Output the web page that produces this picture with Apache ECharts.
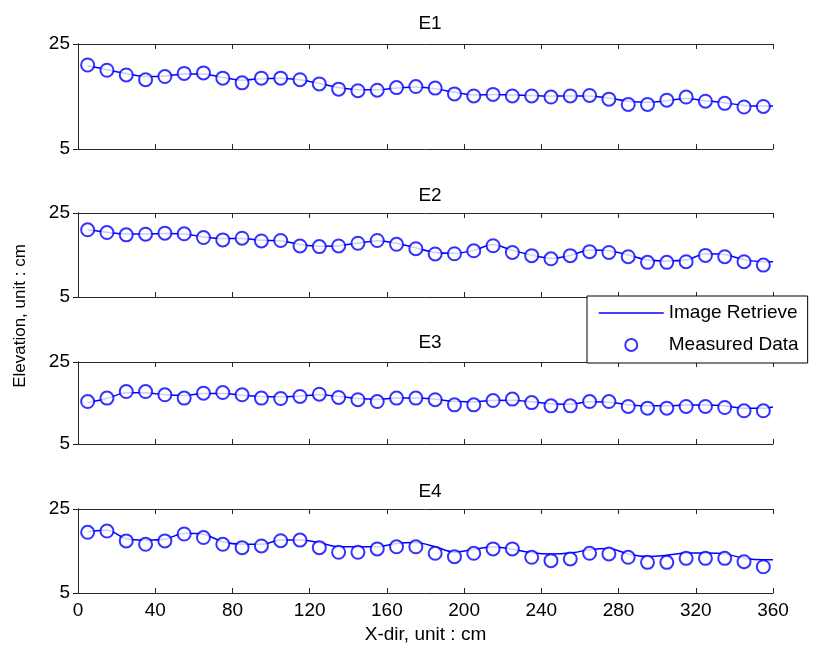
<!DOCTYPE html>
<html>
<head>
<meta charset="utf-8">
<script src="https://cdn.jsdelivr.net/npm/echarts@6/dist/echarts.min.js"></script>
<style>
  html, body { margin: 0; padding: 0; background: #fff; }
  #chart { width: 819px; height: 650px; }
</style>
</head>
<body>
<div id="chart"></div>
<script>
// sample positions (cm)
const xMeasured = [5, 15, 25, 35, 45, 55, 65, 75, 85, 95, 105, 115, 125, 135, 145, 155, 165, 175,
  185, 195, 205, 215, 225, 235, 245, 255, 265, 275, 285, 295, 305, 315, 325, 335, 345, 355];
const xRetrieve = [5, 15, 25, 35, 45, 55, 65, 75, 85, 95, 105, 115, 125, 135, 145, 155, 165, 175,
  185, 195, 205, 215, 225, 235, 245, 255, 265, 275, 285, 295, 305, 315, 325, 335, 345, 355, 360];

// measured elevations (cm)
const e1Measured = [21.0, 20.0, 19.1, 18.2, 18.8, 19.4, 19.5, 18.5, 17.6, 18.5, 18.5, 18.2, 17.4, 16.4, 16.1, 16.2, 16.7, 16.9,
  16.6, 15.5, 15.1, 15.4, 15.1, 15.1, 14.9, 15.1, 15.2, 14.5, 13.5, 13.5, 14.3, 14.9, 14.1, 13.7, 13.0, 13.1];
const e2Measured = [21.0, 20.35, 19.8, 19.95, 20.2, 20.05, 19.15, 18.6, 19.0, 18.35, 18.45, 17.15, 17.0, 17.15, 17.8, 18.45, 17.55, 16.5,
  15.25, 15.3, 16.0, 17.2, 15.6, 14.85, 14.1, 14.85, 15.8, 15.6, 14.6, 13.25, 13.25, 13.4, 14.9, 14.6, 13.4, 12.6];
const e3Measured = [15.35, 16.2, 17.8, 17.8, 17.0, 16.2, 17.4, 17.55, 17.0, 16.2, 16.1, 16.6, 17.15, 16.35, 15.8, 15.35, 16.2, 16.2,
  15.8, 14.55, 14.55, 15.6, 15.95, 15.1, 14.3, 14.3, 15.35, 15.35, 14.15, 13.75, 13.75, 14.15, 14.15, 13.9, 13.1, 13.1];
const e4Measured = [19.45, 19.75, 17.4, 16.6, 17.4, 19.05, 18.2, 16.6, 15.8, 16.2, 17.45, 17.6, 15.8, 14.7, 14.7, 15.5, 16.0, 16.0,
  14.45, 13.65, 14.45, 15.5, 15.5, 13.5, 12.7, 13.1, 14.45, 14.3, 13.5, 12.3, 12.3, 13.25, 13.25, 13.25, 12.45, 11.25];

// image-retrieved elevations (cm)
const e1Retrieve = [20.9, 20.1, 19.4, 18.8, 18.9, 19.3, 19.3, 18.6, 18.1, 18.4, 18.5, 18.2, 17.5, 16.7, 16.3, 16.3, 16.6, 16.8,
  16.5, 15.8, 15.3, 15.4, 15.3, 15.2, 15.1, 15.1, 15.1, 14.7, 14.1, 13.9, 14.2, 14.6, 14.2, 13.8, 13.3, 13.2, 13.2];
const e2Retrieve = [21.0, 20.4, 20.0, 20.0, 20.1, 20.0, 19.3, 18.9, 18.9, 18.5, 18.4, 17.5, 17.1, 17.2, 17.8, 18.4, 17.8, 16.7,
  15.6, 15.4, 16.1, 17.5, 16.1, 15.0, 14.2, 14.9, 16.2, 16.0, 15.0, 13.8, 13.6, 13.8, 15.3, 15.1, 13.9, 13.4, 13.4];
const e3Retrieve = [15.1, 16.1, 17.5, 17.5, 17.0, 16.8, 17.3, 17.3, 16.9, 16.6, 16.5, 16.7, 17.0, 16.6, 16.1, 15.9, 16.2, 16.2,
  15.9, 15.4, 15.3, 15.6, 15.7, 15.3, 14.8, 14.7, 15.3, 15.2, 14.6, 14.3, 14.3, 14.5, 14.5, 14.3, 13.7, 13.7, 14.0];
const e4Retrieve = [19.6, 20.0, 17.9, 17.6, 17.8, 19.2, 19.0, 17.2, 16.6, 16.6, 17.6, 17.6, 17.0, 16.0, 16.0, 16.0, 16.8, 17.0,
  16.0, 14.7, 15.4, 16.0, 15.4, 14.6, 14.3, 14.5, 15.3, 15.6, 14.3, 13.7, 14.0, 14.5, 14.5, 14.3, 13.3, 12.9, 12.9];

const panelNames = ['E1', 'E2', 'E3', 'E4'];
const measured = [e1Measured, e2Measured, e3Measured, e4Measured];
const retrieved = [e1Retrieve, e2Retrieve, e3Retrieve, e4Retrieve];

const FONT = "'Liberation Sans', Arial, Helvetica, sans-serif";
const AXIS_COLOR = '#262626';
const BLUE = '#0000ff';

// subplot boxes (px)
const panelTop = [44, 213, 362, 509];
const panelHeight = [105, 84, 82, 84];
const titleTop = [9, 181, 328, 477];

const chart = echarts.init(document.getElementById('chart'));

const grid = [];
const xAxis = [];
const yAxis = [];
const series = [];
const title = [];

panelNames.forEach((name, i) => {
  grid.push({ left: 78, right: 46, top: panelTop[i], height: panelHeight[i] });

  title.push({
    text: name,
    left: 425,
    top: titleTop[i],
    textAlign: 'center',
    textStyle: { fontFamily: FONT, fontSize: 19, fontWeight: 'normal', color: '#000' }
  });

  const isLast = i === panelNames.length - 1;
  const xCommon = {
    gridIndex: i,
    type: 'value',
    min: 0,
    max: 360,
    interval: 40,
    axisLine: { show: true, lineStyle: { color: AXIS_COLOR, width: 1 } },
    axisTick: { show: true, inside: true, length: 5, lineStyle: { color: AXIS_COLOR } },
    splitLine: { show: false }
  };
  xAxis.push(Object.assign({}, xCommon, {
    position: 'bottom',
    axisLabel: { show: isLast, fontFamily: FONT, fontSize: 19, color: '#000', margin: 8 },
    name: isLast ? 'X-dir, unit : cm' : '',
    nameLocation: 'middle',
    nameGap: 32,
    nameTextStyle: { fontFamily: FONT, fontSize: 19, color: '#000' }
  }));
  xAxis.push(Object.assign({}, xCommon, {
    position: 'top',
    axisLabel: { show: false }
  }));

  const yCommon = {
    gridIndex: i,
    type: 'value',
    min: 5,
    max: 25,
    interval: 20,
    axisLine: { show: true, lineStyle: { color: AXIS_COLOR, width: 1 } },
    axisTick: { show: true, inside: true, length: 5, lineStyle: { color: AXIS_COLOR } },
    splitLine: { show: false }
  };
  yAxis.push(Object.assign({}, yCommon, {
    position: 'left',
    axisLabel: { show: true, fontFamily: FONT, fontSize: 19, color: '#000', margin: 8 }
  }));
  yAxis.push(Object.assign({}, yCommon, {
    position: 'right',
    axisLabel: { show: false }
  }));

  series.push({
    name: 'Image Retrieve',
    type: 'line',
    xAxisIndex: i * 2,
    yAxisIndex: i * 2,
    data: xRetrieve.map((x, k) => [x, retrieved[i][k]]),
    symbol: 'none',
    smooth: 0.3,
    lineStyle: { color: BLUE, width: 1.5 },
    itemStyle: { color: BLUE },
    z: 2
  });
  series.push({
    name: 'Measured Data',
    type: 'scatter',
    xAxisIndex: i * 2,
    yAxisIndex: i * 2,
    data: xMeasured.map((x, k) => [x, measured[i][k]]),
    symbol: 'emptyCircle',
    symbolSize: 13,
    itemStyle: { color: BLUE, borderColor: BLUE, borderWidth: 1.3 },
    z: 3
  });
});

chart.setOption({
  animation: false,
  backgroundColor: '#fff',
  title: title,
  grid: grid,
  xAxis: xAxis,
  yAxis: yAxis,
  series: series,
  legend: {
    data: [
      { name: 'Image Retrieve', itemStyle: { opacity: 0 }, lineStyle: { color: BLUE, width: 1.5 } },
      { name: 'Measured Data' }
    ],
    orient: 'vertical',
    left: 587,
    top: 296,
    padding: [7, 9, 8, 11],
    itemWidth: 65,
    itemHeight: 12,
    itemGap: 12,
    backgroundColor: '#fff',
    borderColor: '#000',
    borderWidth: 1,
    borderRadius: 0,
    textStyle: { fontFamily: FONT, fontSize: 19, color: '#000', lineHeight: 20 },
    z: 10
  },
  graphic: [{
    type: 'text',
    x: 20,
    y: 316,
    rotation: Math.PI / 2,
    style: {
      text: 'Elevation, unit : cm',
      fontFamily: FONT,
      fontSize: 17,
      fill: '#000',
      align: 'center',
      verticalAlign: 'middle'
    }
  }]
});
</script>
</body>
</html>
